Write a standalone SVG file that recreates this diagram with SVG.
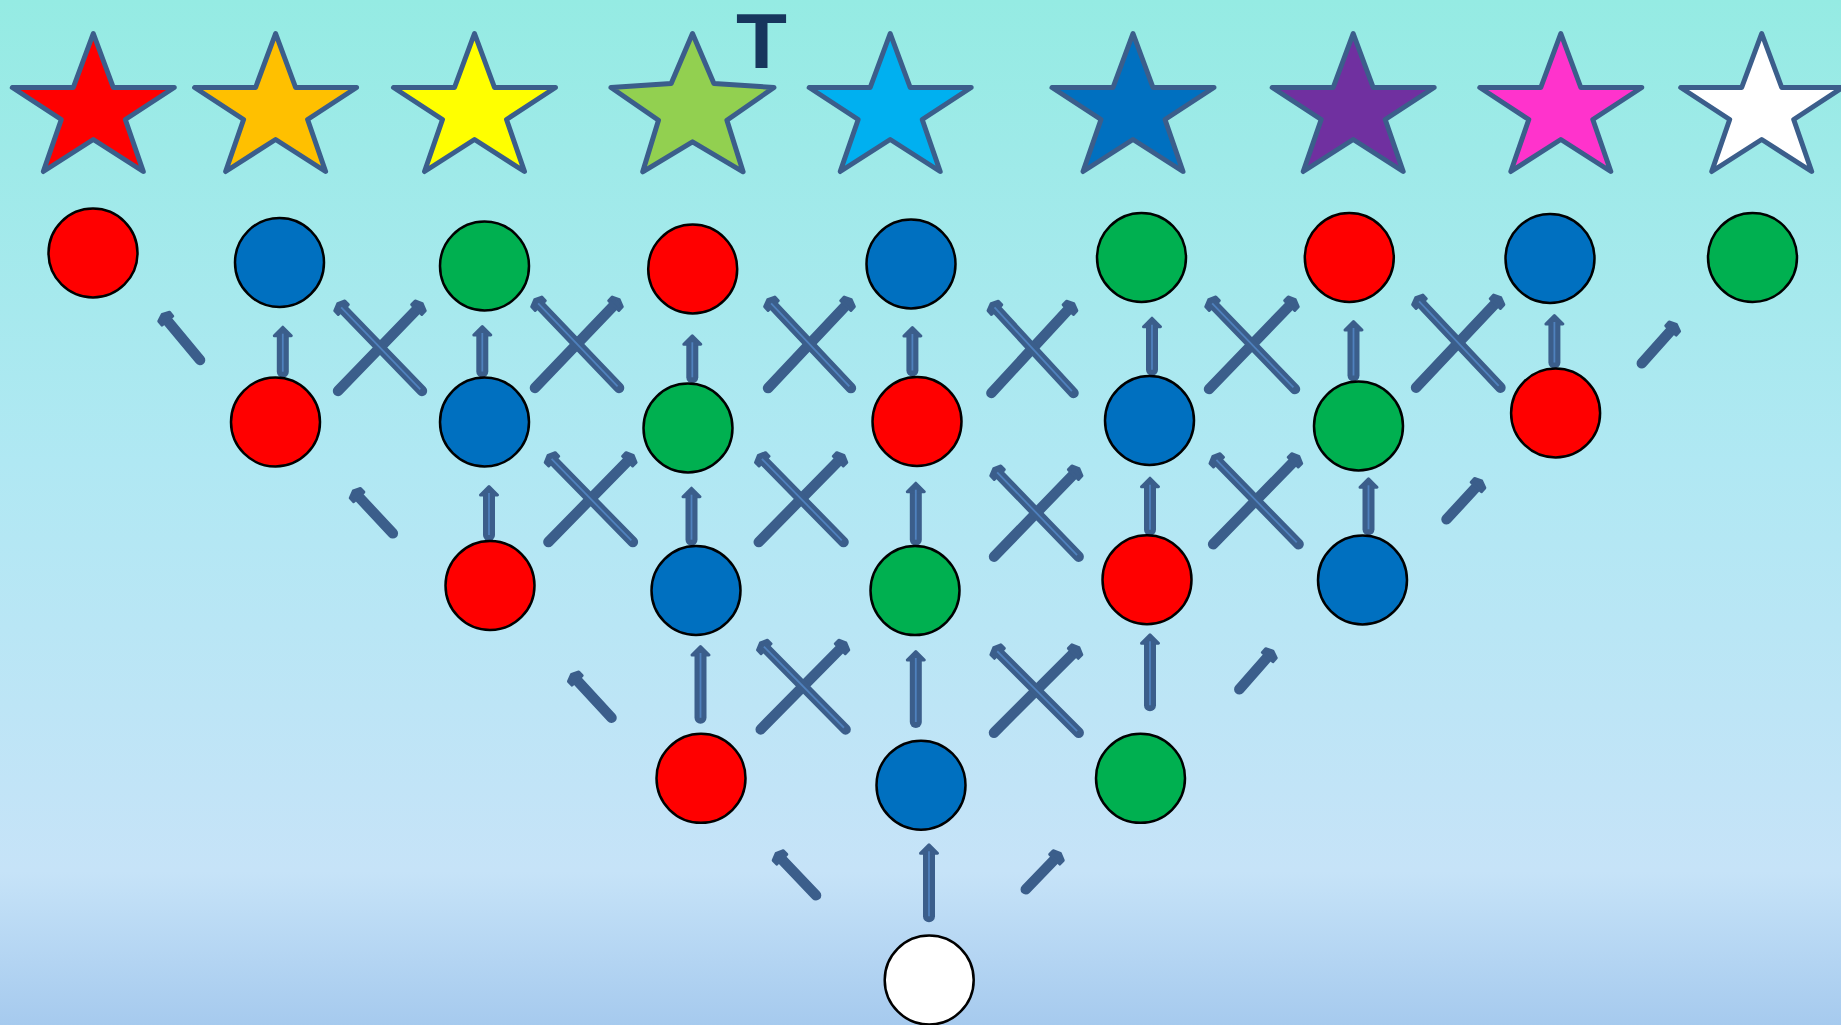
<svg xmlns="http://www.w3.org/2000/svg" xmlns:xlink="http://www.w3.org/1999/xlink" width="1841" height="1025" viewBox="0 0 1841 1025">
<defs>
<linearGradient id="bg" x1="0" y1="0" x2="0" y2="1">
<stop offset="0" stop-color="#95EBE3"/>
<stop offset="0.45" stop-color="#B0E8F3"/>
<stop offset="0.85" stop-color="#C6E3F8"/>
<stop offset="1" stop-color="#A6CAEE"/>
</linearGradient>
<style>
.st{stroke:#3B5E8B;stroke-width:5;stroke-linejoin:round}
.c{stroke:#000;stroke-width:2.5}
.sh{fill:none;stroke:#3B5E8B;stroke-linecap:round}
.v .sh{stroke-width:12}
.d .sh{stroke-width:10.5}
.hd{fill:#3B5E8B;stroke:#3B5E8B;stroke-width:3;stroke-linejoin:round}
.in{fill:none;stroke:#4F81BD;stroke-width:1.8}
</style>
<path id="star" d="M0,0 L20,54 L81,54 L32,86 L50,138 L0,106 L-50,138 L-32,86 L-81,54 L-20,54 Z"/>
<path id="dh" d="M-7,9L-7,4L0,1L7,4L7,9Z"/>
<path id="vh" d="M-8.5,10L0,1.5L8.5,10Z"/>
</defs>
<rect width="1841" height="1025" fill="url(#bg)"/>

<g id="stars">
<g id="star-red"><use xlink:href="#star" href="#star" class="st" fill="#FF0000" transform="translate(93.3,33.5)"/></g>
<g id="star-orange"><use xlink:href="#star" href="#star" class="st" fill="#FFC000" transform="translate(275.6,33.5)"/></g>
<g id="star-yellow"><use xlink:href="#star" href="#star" class="st" fill="#FFFF00" transform="translate(474.5,33.5)"/></g>
<g id="star-green"><path class="st" fill="#92D050" transform="translate(692.5,33.5)" d="M0,0 L21.4,50 L81.5,54 L34.4,86.7 L50.6,138.3 L0,108.3 L-49.8,138.3 L-34,86.7 L-81.5,54 L-21.3,50 Z"/></g>
<g id="star-sky"><use xlink:href="#star" href="#star" class="st" fill="#00B0F0" transform="translate(890.2,33.5)"/></g>
<g id="star-blue"><use xlink:href="#star" href="#star" class="st" fill="#0070C0" transform="translate(1133,33.5)"/></g>
<g id="star-purple"><use xlink:href="#star" href="#star" class="st" fill="#7030A0" transform="translate(1353.2,33.5)"/></g>
<g id="star-pink"><use xlink:href="#star" href="#star" class="st" fill="#FF33CC" transform="translate(1560.8,33.5)"/></g>
<g id="star-white"><use xlink:href="#star" href="#star" class="st" fill="#FFFFFF" transform="translate(1761.7,33.5)"/></g>
</g>

<g id="label-T"><text x="761.5" y="67.7" font-family="Liberation Sans, Arial, sans-serif" font-weight="bold" font-size="77" fill="#17365D" text-anchor="middle" textLength="51" lengthAdjust="spacingAndGlyphs">T</text></g>

<g id="connectors">
<!-- row 1-2 -->
<g class="d" transform="translate(161.6,313.7) rotate(-39.7)"><path class="sh" d="M0,6V60.2"/><use href="#dh" xlink:href="#dh" class="hd"/></g>
<g class="v" transform="translate(282.8,325.7)"><path class="sh" d="M0,9V46"/><use href="#vh" xlink:href="#vh" class="hd"/><path class="in" d="M0,8V46"/></g>
<g class="d" transform="translate(423,303) rotate(44)"><path class="sh" d="M0,6V122.3"/><use href="#dh" xlink:href="#dh" class="hd"/></g>
<g class="d" transform="translate(337,303) rotate(-44)"><path class="sh" d="M0,6V122.3"/><use href="#dh" xlink:href="#dh" class="hd"/><path class="in" d="M0,6V120"/></g>
<g class="v" transform="translate(482.3,325)"><path class="sh" d="M0,9V46.5"/><use href="#vh" xlink:href="#vh" class="hd"/><path class="in" d="M0,8V46.5"/></g>
<g class="d" transform="translate(620,299) rotate(43.7)"><path class="sh" d="M0,6V123.1"/><use href="#dh" xlink:href="#dh" class="hd"/></g>
<g class="d" transform="translate(534,299) rotate(-43.7)"><path class="sh" d="M0,6V123.1"/><use href="#dh" xlink:href="#dh" class="hd"/><path class="in" d="M0,6V121"/></g>
<g class="v" transform="translate(692.3,334.3)"><path class="sh" d="M0,9V43"/><use href="#vh" xlink:href="#vh" class="hd"/><path class="in" d="M0,8V43"/></g>
<g class="d" transform="translate(852,299) rotate(43.3)"><path class="sh" d="M0,6V122.4"/><use href="#dh" xlink:href="#dh" class="hd"/></g>
<g class="d" transform="translate(767,299) rotate(-43.3)"><path class="sh" d="M0,6V122.4"/><use href="#dh" xlink:href="#dh" class="hd"/><path class="in" d="M0,6V120"/></g>
<g class="v" transform="translate(912.4,326)"><path class="sh" d="M0,9V44.5"/><use href="#vh" xlink:href="#vh" class="hd"/><path class="in" d="M0,8V44.5"/></g>
<g class="d" transform="translate(1074.4,303) rotate(42.7)"><path class="sh" d="M0,6V122.4"/><use href="#dh" xlink:href="#dh" class="hd"/></g>
<g class="d" transform="translate(990.5,303) rotate(-42.7)"><path class="sh" d="M0,6V122.4"/><use href="#dh" xlink:href="#dh" class="hd"/><path class="in" d="M0,6V120"/></g>
<g class="v" transform="translate(1152,316.7)"><path class="sh" d="M0,9V53"/><use href="#vh" xlink:href="#vh" class="hd"/><path class="in" d="M0,8V53"/></g>
<g class="d" transform="translate(1296,299) rotate(44)"><path class="sh" d="M0,6V125.2"/><use href="#dh" xlink:href="#dh" class="hd"/></g>
<g class="d" transform="translate(1208,299) rotate(-44)"><path class="sh" d="M0,6V125.2"/><use href="#dh" xlink:href="#dh" class="hd"/><path class="in" d="M0,6V123"/></g>
<g class="v" transform="translate(1353.5,320)"><path class="sh" d="M0,9V55.5"/><use href="#vh" xlink:href="#vh" class="hd"/><path class="in" d="M0,8V55.5"/></g>
<g class="d" transform="translate(1501.5,297) rotate(43.3)"><path class="sh" d="M0,6V124.6"/><use href="#dh" xlink:href="#dh" class="hd"/></g>
<g class="d" transform="translate(1415,297) rotate(-43.3)"><path class="sh" d="M0,6V124.6"/><use href="#dh" xlink:href="#dh" class="hd"/><path class="in" d="M0,6V122"/></g>
<g class="v" transform="translate(1554.4,314)"><path class="sh" d="M0,9V48.5"/><use href="#vh" xlink:href="#vh" class="hd"/><path class="in" d="M0,8V48.5"/></g>
<g class="d" transform="translate(1677,323.7) rotate(41.6)"><path class="sh" d="M0,6V53"/><use href="#dh" xlink:href="#dh" class="hd"/></g>
<!-- row 2-3 -->
<g class="d" transform="translate(352.6,490.3) rotate(-43.1)"><path class="sh" d="M0,6V58.9"/><use href="#dh" xlink:href="#dh" class="hd"/></g>
<g class="v" transform="translate(489,485)"><path class="sh" d="M0,9V50"/><use href="#vh" xlink:href="#vh" class="hd"/><path class="in" d="M0,8V50"/></g>
<g class="d" transform="translate(633.9,454.7) rotate(44.4)"><path class="sh" d="M0,6V122.2"/><use href="#dh" xlink:href="#dh" class="hd"/></g>
<g class="d" transform="translate(547.4,454.7) rotate(-44.4)"><path class="sh" d="M0,6V122.2"/><use href="#dh" xlink:href="#dh" class="hd"/><path class="in" d="M0,6V120"/></g>
<g class="v" transform="translate(691.5,486.7)"><path class="sh" d="M0,9V53"/><use href="#vh" xlink:href="#vh" class="hd"/><path class="in" d="M0,8V53"/></g>
<g class="d" transform="translate(844.6,454.7) rotate(44.5)"><path class="sh" d="M0,6V122.5"/><use href="#dh" xlink:href="#dh" class="hd"/></g>
<g class="d" transform="translate(757.7,454.7) rotate(-44.5)"><path class="sh" d="M0,6V122.5"/><use href="#dh" xlink:href="#dh" class="hd"/><path class="in" d="M0,6V120"/></g>
<g class="v" transform="translate(915.8,481.7)"><path class="sh" d="M0,9V58"/><use href="#vh" xlink:href="#vh" class="hd"/><path class="in" d="M0,8V58"/></g>
<g class="d" transform="translate(1079.7,468) rotate(44)"><path class="sh" d="M0,6V123.3"/><use href="#dh" xlink:href="#dh" class="hd"/></g>
<g class="d" transform="translate(993,468) rotate(-44)"><path class="sh" d="M0,6V123.3"/><use href="#dh" xlink:href="#dh" class="hd"/><path class="in" d="M0,6V121"/></g>
<g class="v" transform="translate(1150,476.7)"><path class="sh" d="M0,9V53"/><use href="#vh" xlink:href="#vh" class="hd"/><path class="in" d="M0,8V53"/></g>
<g class="d" transform="translate(1299.5,455.7) rotate(44.3)"><path class="sh" d="M0,6V123.7"/><use href="#dh" xlink:href="#dh" class="hd"/></g>
<g class="d" transform="translate(1212.2,455.7) rotate(-44.3)"><path class="sh" d="M0,6V123.7"/><use href="#dh" xlink:href="#dh" class="hd"/><path class="in" d="M0,6V121"/></g>
<g class="v" transform="translate(1368.5,477.3)"><path class="sh" d="M0,9V52"/><use href="#vh" xlink:href="#vh" class="hd"/><path class="in" d="M0,8V52"/></g>
<g class="d" transform="translate(1482.4,480.3) rotate(42.6)"><path class="sh" d="M0,6V53"/><use href="#dh" xlink:href="#dh" class="hd"/></g>
<!-- row 3-4 -->
<g class="d" transform="translate(570.9,673.7) rotate(-42.7)"><path class="sh" d="M0,6V59.9"/><use href="#dh" xlink:href="#dh" class="hd"/></g>
<g class="v" transform="translate(700.5,645)"><path class="sh" d="M0,9V72.8"/><use href="#vh" xlink:href="#vh" class="hd"/><path class="in" d="M0,8V72.8"/></g>
<g class="d" transform="translate(846.6,642.3) rotate(44.6)"><path class="sh" d="M0,6V122.3"/><use href="#dh" xlink:href="#dh" class="hd"/></g>
<g class="d" transform="translate(759.7,642.3) rotate(-44.6)"><path class="sh" d="M0,6V122.3"/><use href="#dh" xlink:href="#dh" class="hd"/><path class="in" d="M0,6V120"/></g>
<g class="v" transform="translate(915.8,650)"><path class="sh" d="M0,9V72"/><use href="#vh" xlink:href="#vh" class="hd"/><path class="in" d="M0,8V72"/></g>
<g class="d" transform="translate(1079.7,647) rotate(45)"><path class="sh" d="M0,6V121.2"/><use href="#dh" xlink:href="#dh" class="hd"/></g>
<g class="d" transform="translate(993,647) rotate(-45)"><path class="sh" d="M0,6V121.2"/><use href="#dh" xlink:href="#dh" class="hd"/><path class="in" d="M0,6V119"/></g>
<g class="v" transform="translate(1150,633.3)"><path class="sh" d="M0,9V72"/><use href="#vh" xlink:href="#vh" class="hd"/><path class="in" d="M0,8V72"/></g>
<g class="d" transform="translate(1273.6,650.3) rotate(41.3)"><path class="sh" d="M0,6V51.9"/><use href="#dh" xlink:href="#dh" class="hd"/></g>
<!-- row 4-5 -->
<g class="d" transform="translate(775.5,852.7) rotate(-43.6)"><path class="sh" d="M0,6V58.8"/><use href="#dh" xlink:href="#dh" class="hd"/></g>
<g class="v" transform="translate(929,843.3)"><path class="sh" d="M0,9V73"/><use href="#vh" xlink:href="#vh" class="hd"/><path class="in" d="M0,8V73"/></g>
<g class="d" transform="translate(1061,852.7) rotate(43.9)"><path class="sh" d="M0,6V50.8"/><use href="#dh" xlink:href="#dh" class="hd"/></g>
</g>

<g id="nodes">
<g id="n1-1"><circle class="c" cx="93" cy="253" r="44.5" fill="#FF0000"/></g>
<g id="n1-2"><circle class="c" cx="279.5" cy="262.5" r="44.5" fill="#0070C0"/></g>
<g id="n1-3"><circle class="c" cx="484.5" cy="266" r="44.5" fill="#00B050"/></g>
<g id="n1-4"><circle class="c" cx="692.7" cy="269" r="44.5" fill="#FF0000"/></g>
<g id="n1-5"><circle class="c" cx="911" cy="264" r="44.5" fill="#0070C0"/></g>
<g id="n1-6"><circle class="c" cx="1141.5" cy="257.5" r="44.5" fill="#00B050"/></g>
<g id="n1-7"><circle class="c" cx="1349.3" cy="257.5" r="44.5" fill="#FF0000"/></g>
<g id="n1-8"><circle class="c" cx="1550" cy="258.5" r="44.5" fill="#0070C0"/></g>
<g id="n1-9"><circle class="c" cx="1752.5" cy="257.5" r="44.5" fill="#00B050"/></g>
<g id="n2-1"><circle class="c" cx="275.5" cy="422" r="44.5" fill="#FF0000"/></g>
<g id="n2-2"><circle class="c" cx="484.5" cy="422" r="44.5" fill="#0070C0"/></g>
<g id="n2-3"><circle class="c" cx="688" cy="428" r="44.5" fill="#00B050"/></g>
<g id="n2-4"><circle class="c" cx="917" cy="421.5" r="44.5" fill="#FF0000"/></g>
<g id="n2-5"><circle class="c" cx="1149.5" cy="420.5" r="44.5" fill="#0070C0"/></g>
<g id="n2-6"><circle class="c" cx="1358.5" cy="426" r="44.5" fill="#00B050"/></g>
<g id="n2-7"><circle class="c" cx="1555.6" cy="413" r="44.5" fill="#FF0000"/></g>
<g id="n3-1"><circle class="c" cx="490" cy="585.5" r="44.5" fill="#FF0000"/></g>
<g id="n3-2"><circle class="c" cx="696" cy="590.5" r="44.5" fill="#0070C0"/></g>
<g id="n3-3"><circle class="c" cx="915" cy="590.6" r="44.5" fill="#00B050"/></g>
<g id="n3-4"><circle class="c" cx="1147" cy="579.7" r="44.5" fill="#FF0000"/></g>
<g id="n3-5"><circle class="c" cx="1362.5" cy="580" r="44.5" fill="#0070C0"/></g>
<g id="n4-1"><circle class="c" cx="701" cy="778.3" r="44.5" fill="#FF0000"/></g>
<g id="n4-2"><circle class="c" cx="921" cy="785.2" r="44.5" fill="#0070C0"/></g>
<g id="n4-3"><circle class="c" cx="1140.5" cy="778.3" r="44.5" fill="#00B050"/></g>
<g id="n5-1"><circle class="c" cx="929.2" cy="980" r="44.5" fill="#FFFFFF"/></g>
</g>
</svg>
